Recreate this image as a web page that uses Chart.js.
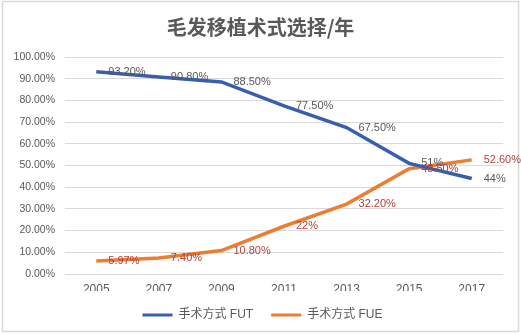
<!DOCTYPE html>
<html>
<head>
<meta charset="utf-8">
<script src="https://cdn.jsdelivr.net/npm/chart.js@4/dist/chart.umd.min.js"></script>
<style>
  html, body { margin: 0; padding: 0; background: #fff; }
  #wrap { width: 521px; height: 334px; }
</style>
</head>
<body>
<div id="wrap"><canvas id="trendChart" width="521" height="334"></canvas></div>
<script>
const years = ['2005', '2007', '2009', '2011', '2013', '2015', '2017'];
const futShare = [93.2, 90.8, 88.5, 77.5, 67.5, 51, 44];
const fueShare = [5.97, 7.4, 10.8, 22, 32.2, 48.5, 52.6];
const seriesNames = ['手术方式 FUT', '手术方式 FUE'];
const labelColors = ['#595959', '#B0413A'];

const FONT = "'Liberation Sans', Arial, 'Noto Sans CJK SC', sans-serif";
const GRID = '#D9D9D9';

// integers print bare ("51%"), everything else with two decimals ("93.20%")
function pct(v) {
  return Number.isInteger(v) ? v + '%' : v.toFixed(2) + '%';
}

const frame = {
  id: 'frame',
  beforeDraw(chart) {
    const ctx = chart.ctx;
    ctx.save();
    ctx.fillStyle = '#fff';
    ctx.fillRect(0, 0, chart.width, chart.height);
    ctx.strokeStyle = GRID;
    ctx.lineWidth = 1.5;
    ctx.strokeRect(2.5, 1.5, chart.width - 5, chart.height - 4);
    ctx.restore();
  }
};

// centre title and legend on the whole card rather than the padded box
const recenter = {
  id: 'recenter',
  afterLayout(chart) {
    const nudge = (box, dx) => { if (box) { box.left += dx; box.right += dx; } };
    nudge(chart.titleBlock, 5);
    nudge(chart.legend, 7);
  }
};

const pointLabels = {
  id: 'pointLabels',
  afterDatasetsDraw(chart) {
    const ctx = chart.ctx;
    ctx.save();
    ctx.font = '11px ' + FONT;
    ctx.textAlign = 'left';
    ctx.textBaseline = 'middle';
    chart.data.datasets.forEach((ds, i) => {
      ctx.fillStyle = labelColors[i];
      chart.getDatasetMeta(i).data.forEach((pt, j) => {
        ctx.fillText(pct(ds.data[j]), pt.x + 12, pt.y);
      });
    });
    ctx.restore();
  }
};

new Chart(document.getElementById('trendChart'), {
  type: 'line',
  data: {
    labels: years,
    datasets: [{
      label: seriesNames[0],
      data: futShare,
      borderColor: '#3A5EAE',
      backgroundColor: '#3A5EAE',
      borderWidth: 3.5,
      pointRadius: 0,
      tension: 0
    }, {
      label: seriesNames[1],
      data: fueShare,
      borderColor: '#ED7D31',
      backgroundColor: '#ED7D31',
      borderWidth: 3.5,
      pointRadius: 0,
      tension: 0
    }]
  },
  options: {
    responsive: false,
    animation: false,
    layout: {
      padding: { left: 8, right: 18, top: 0, bottom: 3 }
    },
    plugins: {
      title: {
        display: true,
        text: '毛发移植术式选择/年',
        color: '#595959',
        font: { family: "'Noto Sans CJK SC', sans-serif", size: 20, weight: 'bold' },
        padding: { top: 15, bottom: 18 }
      },
      legend: {
        position: 'bottom',
        labels: {
          color: '#595959',
          font: { family: "'Liberation Sans', 'Noto Sans CJK SC', sans-serif", size: 12 },
          boxWidth: 30,
          boxHeight: 3,
          padding: 18,
          generateLabels(chart) {
            return Chart.defaults.plugins.legend.labels.generateLabels(chart)
              .map(item => ({ ...item, lineWidth: 0 }));
          }
        }
      },
      tooltip: { enabled: false }
    },
    scales: {
      x: {
        offset: true,
        grid: { display: false, drawTicks: false },
        border: { display: false },
        ticks: {
          color: '#595959',
          font: { family: FONT, size: 12 },
          padding: 8,
          maxRotation: 0
        },
        afterFit(scale) { scale.height = 17; }
      },
      y: {
        min: 0,
        max: 100,
        grid: { color: GRID, lineWidth: 1, drawTicks: false },
        border: { display: false },
        ticks: {
          stepSize: 10,
          color: '#595959',
          font: { family: FONT, size: 10.5 },
          padding: 10,
          callback: v => v.toFixed(2) + '%'
        },
        afterFit(scale) { scale.width = 57; }
      }
    }
  },
  plugins: [frame, recenter, pointLabels]
});
</script>
</body>
</html>
